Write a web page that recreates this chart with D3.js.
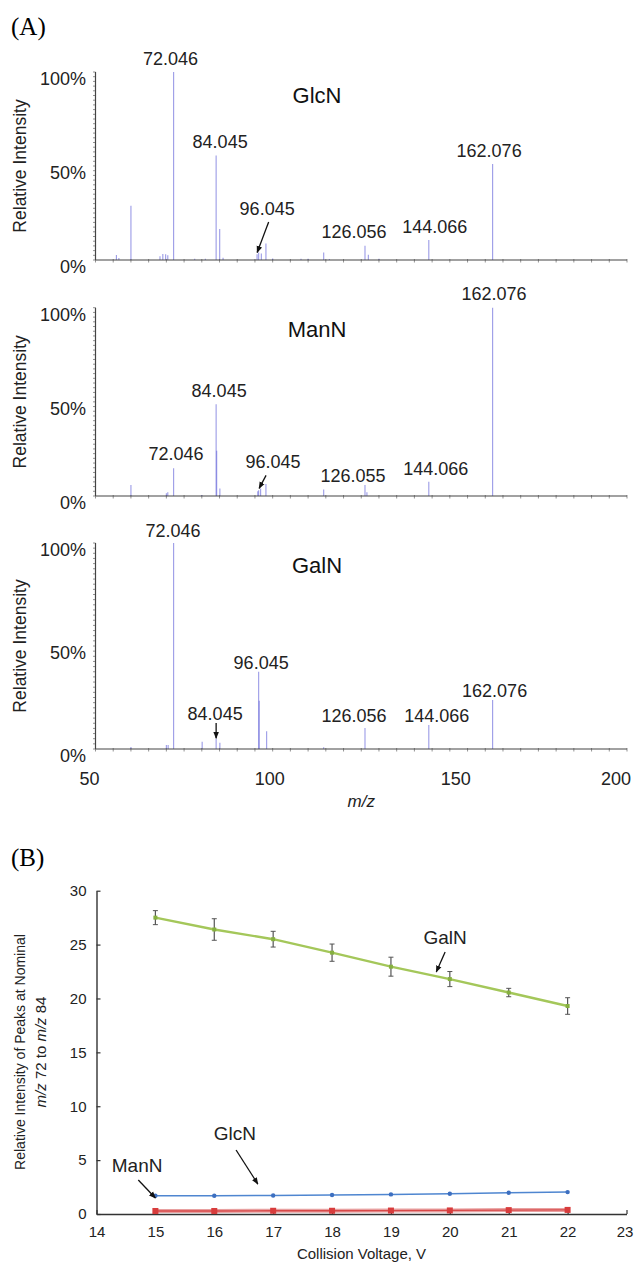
<!DOCTYPE html>
<html><head><meta charset="utf-8">
<script src="https://cdn.jsdelivr.net/npm/d3@7/dist/d3.min.js"></script>
<style>body{margin:0;background:#fff}svg{display:block}</style>
</head><body>
<svg id="c" width="635" height="1262"></svg>
<script>
// ---------- DATA: panel A (mass spectra) ----------
const mzTicks = [50, 100, 150, 200];
const pctTicks = [0, 50, 100];
const pctTickLabels = ["0%", "50%", "100%"];
const spectrumNames = ["GlcN", "ManN", "GalN"];

const glcnMz  = [55.9, 56.6, 60.0, 68.2, 69.0, 69.8, 70.4, 72.046, 78.0, 81.0, 84.045, 85.05, 86.0, 95.6, 96.045, 96.8, 98.1, 100.0, 108.0, 110.0, 114.4, 116.0, 126.056, 127.0, 130.0, 144.066, 162.076];
const glcnInt = [2.7, 1.0, 28.8, 2.0, 3.2, 3.0, 2.5, 100, 0.6, 0.6, 55.6, 16.5, 1.2, 3.0, 4.0, 3.5, 8.8, 0.8, 0.6, 0.6, 4.0, 0.5, 7.6, 2.8, 0.6, 10.6, 51.0];

const mannMz  = [60.0, 70.0, 70.4, 72.046, 80.0, 84.045, 84.2, 85.1, 95.8, 96.045, 96.6, 98.1, 114.4, 126.055, 126.6, 144.066, 162.076];
const mannInt = [5.8, 1.5, 2.0, 14.7, 0.5, 48.7, 24.0, 4.0, 2.5, 3.0, 4.0, 6.4, 3.5, 5.8, 2.0, 7.6, 100];

const galnMz  = [60.0, 70.0, 70.5, 72.046, 80.1, 84.045, 85.1, 96.045, 96.2, 98.3, 114.4, 126.056, 144.066, 162.076];
const galnInt = [1.0, 2.0, 2.0, 100, 3.5, 5.0, 3.0, 37.5, 23.4, 8.6, 0.8, 10.2, 11.7, 23.8];

const glcnLabels = ["72.046", "84.045", "126.056", "144.066", "162.076"];
const mannLabels = ["72.046", "84.045", "126.055", "144.066", "162.076"];
const galnLabels = ["72.046", "96.045", "126.056", "144.066", "162.076"];
const arrowLabels = ["96.045", "96.045", "84.045"];

// ---------- DATA: panel B ----------
const voltage = [15, 16, 17, 18, 19, 20, 21, 22];
const voltTicks = [14, 15, 16, 17, 18, 19, 20, 21, 22, 23];
const ratioTicks = [0, 5, 10, 15, 20, 25, 30];
const galnRatio = [27.5, 26.4, 25.5, 24.25, 22.95, 21.8, 20.55, 19.3];
const galnErr   = [0.65, 1.0, 0.73, 0.8, 0.88, 0.7, 0.39, 0.77];
const glcnRatio = [1.70, 1.70, 1.72, 1.76, 1.82, 1.88, 1.97, 2.03];
const mannRatio = [0.28, 0.28, 0.30, 0.30, 0.32, 0.33, 0.36, 0.38];

// ---------- LAYOUT / STYLE ----------
const svg = d3.select("#c");
const SANS = "'Liberation Sans', Arial, sans-serif";
const SERIF = "'Liberation Serif', 'Times New Roman', serif";

svg.append("defs").append("marker")
  .attr("id", "ah").attr("viewBox", "0 0 10 10").attr("refX", 9).attr("refY", 5)
  .attr("markerWidth", 7).attr("markerHeight", 7).attr("orient", "auto-start-reverse")
  .attr("markerUnits", "userSpaceOnUse")
  .append("path").attr("d", "M0,1 L10,5 L0,9 z").attr("fill", "#111");

svg.append("text").attr("x", 11).attr("y", 35).attr("font-family", SERIF)
  .attr("font-size", 25).text("(A)");
svg.append("text").attr("x", 11).attr("y", 866).attr("font-family", SERIF)
  .attr("font-size", 25).text("(B)");

const x = d3.scaleLinear().domain([50, 200]).range([95.5, 627]);
const panelBox = [[72, 260], [307.7, 496], [543, 749]];
const titleY = [103, 337, 573];
const labelOff = [
  [[-3, -7], [4, -7.5], [-11, -7.7], [6, -7], [-3.5, -7]],
  [[2.4, -8], [3, -7], [-12, -3], [7, -7], [1.4, -8]],
  [[-0.6, -6], [2.5, -3], [-11, -6], [8, -3], [2, -3]]
];
const mzTickDx = [-6, -3, 6, -11];
// arrowed label: [label dx, label dy from peak top], arrow start rel. label, arrow end rel. peak top
const arrowCfg = [
  {lab: [8.5, -37.5], s: [1.5, 7], e: [-1.5, 0]},
  {lab: [14.4, -22], s: [-7, 7], e: [0.5, -2]},
  {lab: [-1, -18.7], s: [1, 3], e: [0, -0.5]}
];
const spectra = [
  {mz: glcnMz, it: glcnInt, labels: glcnLabels},
  {mz: mannMz, it: mannInt, labels: mannLabels},
  {mz: galnMz, it: galnInt, labels: galnLabels}
];

spectra.forEach((sp, i) => {
  const [top, bot] = panelBox[i];
  const y = d3.scaleLinear().domain([0, 100]).range([bot, top]);
  const g = svg.append("g");
  // minor y ticks
  g.selectAll(".ym").data(d3.range(0, 100.1, 2.5)).join("line")
    .attr("x1", x(50) - 2.5).attr("x2", x(50)).attr("y1", d => y(d)).attr("y2", d => y(d))
    .attr("stroke", "#777").attr("stroke-width", 0.8);
  // minor x ticks
  g.selectAll(".xm").data(d3.range(50, 200.1, 5)).join("line")
    .attr("x1", d => x(d)).attr("x2", d => x(d)).attr("y1", bot - 1).attr("y2", bot + 2.5)
    .attr("stroke", "#777").attr("stroke-width", 0.8);
  // peaks
  g.selectAll(".pk").data(sp.mz.map((m, k) => [m, sp.it[k]])).join("line")
    .attr("x1", d => x(d[0])).attr("x2", d => x(d[0]))
    .attr("y1", bot).attr("y2", d => y(d[1]))
    .attr("stroke", "#6f6fdc").attr("stroke-opacity", 0.7).attr("stroke-width", 1.1);
  // axes
  g.append("line").attr("x1", x(50)).attr("x2", x(50)).attr("y1", top).attr("y2", bot)
    .attr("stroke", "#444").attr("stroke-width", 1.2);
  g.append("line").attr("x1", x(50)).attr("x2", x(200)).attr("y1", bot).attr("y2", bot)
    .attr("stroke", "#444").attr("stroke-width", 1.2);
  // y tick labels
  g.selectAll(".yl").data(pctTicks).join("text")
    .attr("x", 86).attr("y", d => y(d) + 13).attr("text-anchor", "end")
    .attr("font-family", SANS).attr("font-size", 18).attr("fill", "#222")
    .text((d, k) => pctTickLabels[k]);
  // y title
  g.append("text").attr("transform", `translate(26,${(top + bot) / 2}) rotate(-90)`)
    .attr("text-anchor", "middle").attr("font-family", SANS).attr("font-size", 17.5)
    .attr("fill", "#222").text("Relative Intensity");
  // panel title
  g.append("text").attr("x", 317).attr("y", titleY[i]).attr("text-anchor", "middle")
    .attr("font-family", SANS).attr("font-size", 22).attr("fill", "#111").text(spectrumNames[i]);
  // peak labels
  sp.labels.forEach((lab, k) => {
    const m = +lab;
    const idx = sp.mz.findIndex(v => Math.abs(v - m) < 0.01);
    const [dx, dy] = labelOff[i][k];
    g.append("text").attr("x", x(m) + dx).attr("y", y(sp.it[idx]) + dy)
      .attr("text-anchor", "middle").attr("font-family", SANS).attr("font-size", 18)
      .attr("fill", "#222").text(lab);
  });
  // arrowed label
  const am = +arrowLabels[i];
  const ai = sp.mz.findIndex(v => Math.abs(v - am) < 0.01);
  const px = x(am), py = y(sp.it[ai]);
  const c = arrowCfg[i];
  const lx = px + c.lab[0], ly = py + c.lab[1];
  g.append("text").attr("x", lx).attr("y", ly).attr("text-anchor", "middle")
    .attr("font-family", SANS).attr("font-size", 18).attr("fill", "#222").text(arrowLabels[i]);
  g.append("line").attr("x1", lx + c.s[0]).attr("y1", ly + c.s[1])
    .attr("x2", px + c.e[0]).attr("y2", py + c.e[1])
    .attr("stroke", "#111").attr("stroke-width", 1.3).attr("marker-end", "url(#ah)");
});

// x tick labels of panel A
svg.selectAll(".xl").data(mzTicks).join("text")
  .attr("x", (d, k) => x(d) + mzTickDx[k]).attr("y", 785).attr("text-anchor", "middle")
  .attr("font-family", SANS).attr("font-size", 18).attr("fill", "#222").text(d => d);
svg.append("text").attr("x", x(125)).attr("y", 807).attr("text-anchor", "middle")
  .attr("font-family", SANS).attr("font-size", 17).attr("font-style", "italic")
  .attr("fill", "#222").text("m/z");

// ---------- PANEL B ----------
const xb = d3.scaleLinear().domain([14, 23]).range([96.5, 626.5]);
const yb = d3.scaleLinear().domain([0, 30]).range([1214, 890.7]);
const gb = svg.append("g");

gb.append("g").attr("transform", "translate(0,1214)")
  .call(d3.axisBottom(xb).tickValues(voltTicks).tickSizeInner(-4).tickSizeOuter(0).tickPadding(12).tickFormat(d3.format("d")))
  .call(a => { a.select(".domain").attr("stroke", "#333").attr("stroke-width", 1.4);
    a.selectAll(".tick line").attr("stroke", "#333").attr("stroke-width", 1.2);
    a.selectAll("text").attr("font-family", SANS).attr("font-size", 15).attr("fill", "#222");
    a.selectAll(".tick").filter(d => d === 23).select("text").attr("dx", -2); });
gb.append("g").attr("transform", "translate(96.5,0)")
  .call(d3.axisLeft(yb).tickValues(ratioTicks).tickSizeInner(-4).tickSizeOuter(0).tickPadding(10))
  .call(a => { a.select(".domain").attr("stroke", "#333").attr("stroke-width", 1.4);
    a.selectAll(".tick line").attr("stroke", "#333").attr("stroke-width", 1.2);
    a.selectAll("text").attr("font-family", SANS).attr("font-size", 15).attr("fill", "#222"); });

const line = d3.line().x(d => xb(d[0])).y(d => yb(d[1]));
const pts = arr => voltage.map((v, k) => [v, arr[k]]);

// ManN
gb.append("path").datum(pts(mannRatio)).attr("d", line).attr("fill", "none")
  .attr("stroke", "#e8a0a0").attr("stroke-width", 4);
gb.append("path").datum(pts(mannRatio)).attr("d", line).attr("fill", "none")
  .attr("stroke", "#d84848").attr("stroke-width", 1.3);
gb.selectAll(".mr").data(pts(mannRatio)).join("rect")
  .attr("x", d => xb(d[0]) - 3).attr("y", d => yb(d[1]) - 3).attr("width", 6).attr("height", 6)
  .attr("fill", "#d83c3c");
// GlcN
gb.append("path").datum(pts(glcnRatio)).attr("d", line).attr("fill", "none")
  .attr("stroke", "#4f86d0").attr("stroke-width", 1.5);
gb.selectAll(".gc").data(pts(glcnRatio)).join("circle")
  .attr("cx", d => xb(d[0])).attr("cy", d => yb(d[1])).attr("r", 2.2).attr("fill", "#3d6fc0");
// GalN
gb.append("path").datum(pts(galnRatio)).attr("d", line).attr("fill", "none")
  .attr("stroke", "#a4c75a").attr("stroke-width", 2.4);
const eb = gb.selectAll(".eb").data(voltage.map((v, k) => [v, galnRatio[k], galnErr[k]])).join("g");
eb.append("line").attr("x1", d => xb(d[0])).attr("x2", d => xb(d[0]))
  .attr("y1", d => yb(d[1] - d[2])).attr("y2", d => yb(d[1] + d[2]))
  .attr("stroke", "#555").attr("stroke-width", 1.2);
eb.append("line").attr("x1", d => xb(d[0]) - 2.5).attr("x2", d => xb(d[0]) + 2.5)
  .attr("y1", d => yb(d[1] - d[2])).attr("y2", d => yb(d[1] - d[2])).attr("stroke", "#555");
eb.append("line").attr("x1", d => xb(d[0]) - 2.5).attr("x2", d => xb(d[0]) + 2.5)
  .attr("y1", d => yb(d[1] + d[2])).attr("y2", d => yb(d[1] + d[2])).attr("stroke", "#555");
eb.append("rect").attr("x", d => xb(d[0]) - 2).attr("y", d => yb(d[1]) - 2)
  .attr("width", 4).attr("height", 4).attr("fill", "#86b040");

// annotations panel B
const bNotes = [
  {t: "GalN", p: [19.92, 25.05], s: [19.92, 24.31], e: [19.77, 22.46]},
  {t: "GlcN", p: [16.35, 6.87], s: [16.37, 5.94], e: [16.74, 2.78]},
  {t: "ManN", p: [14.69, 3.9], s: [14.71, 3.15], e: [15.0, 1.48]}
];
bNotes.forEach(n => {
  gb.append("text").attr("x", xb(n.p[0])).attr("y", yb(n.p[1])).attr("text-anchor", "middle")
    .attr("font-family", SANS).attr("font-size", 19).attr("fill", "#222").text(n.t);
  gb.append("line").attr("x1", xb(n.s[0])).attr("y1", yb(n.s[1]))
    .attr("x2", xb(n.e[0])).attr("y2", yb(n.e[1]))
    .attr("stroke", "#111").attr("stroke-width", 1.3).attr("marker-end", "url(#ah)");
});

// axis titles B
const yt = gb.append("text").attr("transform", "translate(25,1052) rotate(-90)")
  .attr("text-anchor", "middle").attr("font-family", SANS).attr("font-size", 14).attr("fill", "#222");
yt.text("Relative Intensity of Peaks at Nominal");
const yt2 = gb.append("text").attr("transform", "translate(46,1052) rotate(-90)")
  .attr("text-anchor", "middle").attr("font-family", SANS).attr("font-size", 15).attr("fill", "#222");
yt2.append("tspan").attr("font-style", "italic").text("m/z");
yt2.append("tspan").text(" 72 to ");
yt2.append("tspan").attr("font-style", "italic").text("m/z");
yt2.append("tspan").text(" 84");
gb.append("text").attr("x", xb(18.5)).attr("y", 1259).attr("text-anchor", "middle")
  .attr("font-family", SANS).attr("font-size", 15).attr("fill", "#222").text("Collision Voltage, V");
</script>
</body></html>
